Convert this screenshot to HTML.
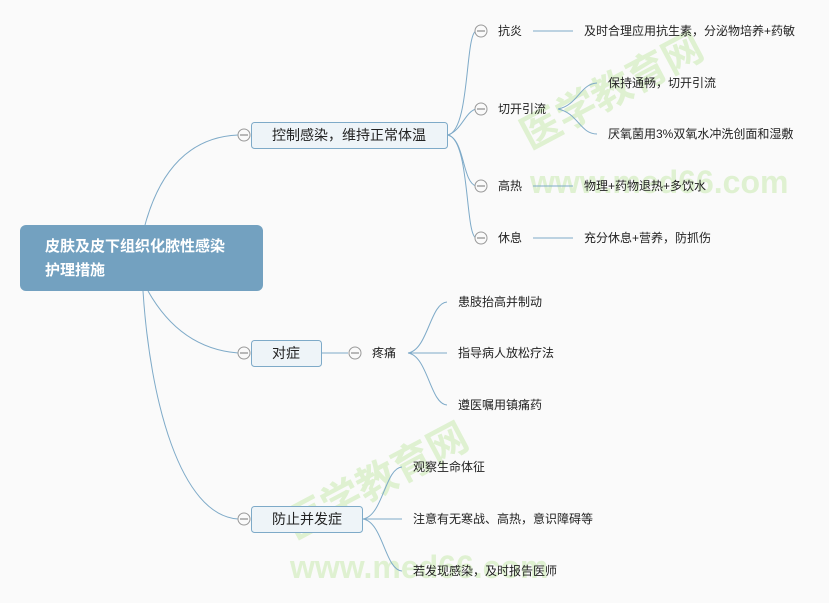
<!DOCTYPE html>
<html><head><meta charset="utf-8"><style>
html,body{margin:0;padding:0;background:#fafafa;}
svg{display:block;font-family:"Liberation Sans","Noto Sans CJK SC",sans-serif;}
</style></head><body>
<svg width="829" height="603" viewBox="0 0 829 603" xmlns="http://www.w3.org/2000/svg">
<rect width="829" height="603" fill="#fafafa"/>
<!-- watermark -->
<g fill="#c8eab0" opacity="0.55" font-weight="bold">
<text x="0" y="0" font-size="40" transform="translate(530,150) rotate(-28)" font-family="Noto Sans CJK SC,sans-serif">医学教育网</text>
<text x="530" y="193" font-size="32">www.med66.com</text>
<text x="0" y="0" font-size="40" transform="translate(295,540) rotate(-28)" font-family="Noto Sans CJK SC,sans-serif">医学教育网</text>
<text x="290" y="578" font-size="32">www.med66.com</text>
</g>
<g fill="none" stroke="#7eaac8" stroke-width="1">
<!-- root to branches -->
<path d="M145,225 C160,170 190,137 238,135"/>
<path d="M148,291 C170,330 200,350 238,353"/>
<path d="M143,291 C150,400 180,515 238,519"/>
<!-- branch1 children -->
<path d="M448,135 C470,130 465,35 476,31"/>
<path d="M448,135 C462,130 465,112 476,109"/>
<path d="M448,135 C465,140 462,182 476,186"/>
<path d="M448,135 C470,140 465,234 476,238"/>
<path d="M533,31 H573"/><path d="M533,186 H573"/><path d="M533,238 H573"/>
<path d="M558,109 C578,105 580,84 597,83"/>
<path d="M558,109 C578,113 580,134 597,134"/>
<!-- 对症 -->
<path d="M321,353 H348"/>
<path d="M408,353 C428,350 430,303 447,302"/>
<path d="M408,353 H447"/>
<path d="M408,353 C428,356 430,404 447,405"/>
<!-- 防止并发症 -->
<path d="M363,519 C383,516 385,468 402,467"/>
<path d="M363,519 H402"/>
<path d="M363,519 C383,522 385,570 402,571"/>
</g>
<!-- root -->
<rect x="20" y="225" width="243" height="66" rx="6" fill="#73a1c0"/>
<text x="45" y="251" font-size="15" font-weight="bold" fill="#fff">皮肤及皮下组织化脓性感染</text>
<text x="45" y="275" font-size="15" font-weight="bold" fill="#fff">护理措施</text>
<!-- branch boxes -->
<g fill="#eef4f8" stroke="#7eaac8">
<rect x="251.5" y="122.5" width="196" height="26" rx="3"/>
<rect x="251.5" y="340.5" width="70" height="26" rx="3"/>
<rect x="251.5" y="506.5" width="111" height="26" rx="3"/>
</g>
<g font-size="14" fill="#222">
<text x="272" y="140">控制感染，维持正常体温</text>
<text x="272" y="358">对症</text>
<text x="272" y="524">防止并发症</text>
</g>
<!-- collapse circles -->
<g fill="#fafafa" stroke="#999">
<circle cx="244" cy="135" r="6"/><circle cx="244" cy="353" r="6"/><circle cx="244" cy="519" r="6"/>
<circle cx="481" cy="31" r="6"/><circle cx="481" cy="109" r="6"/><circle cx="481" cy="186" r="6"/><circle cx="481" cy="238" r="6"/>
<circle cx="355" cy="353" r="6"/>
</g>
<g stroke="#777" stroke-width="1">
<path d="M240,135H248M240,353H248M240,519H248M477,31H485M477,109H485M477,186H485M477,238H485M351,353H359"/>
</g>
<g font-size="12" fill="#222">
<text x="498" y="35">抗炎</text>
<text x="498" y="113">切开引流</text>
<text x="498" y="190">高热</text>
<text x="498" y="242">休息</text>
<text x="584" y="35">及时合理应用抗生素，分泌物培养+药敏</text>
<text x="608" y="87">保持通畅，切开引流</text>
<text x="608" y="138">厌氧菌用3%双氧水冲洗创面和湿敷</text>
<text x="584" y="190">物理+药物退热+多饮水</text>
<text x="584" y="242">充分休息+营养，防抓伤</text>
<text x="372" y="357">疼痛</text>
<text x="458" y="306">患肢抬高并制动</text>
<text x="458" y="357">指导病人放松疗法</text>
<text x="458" y="409">遵医嘱用镇痛药</text>
<text x="413" y="471">观察生命体征</text>
<text x="413" y="523">注意有无寒战、高热，意识障碍等</text>
<text x="413" y="575">若发现感染，及时报告医师</text>
</g>
</svg>
</body></html>
